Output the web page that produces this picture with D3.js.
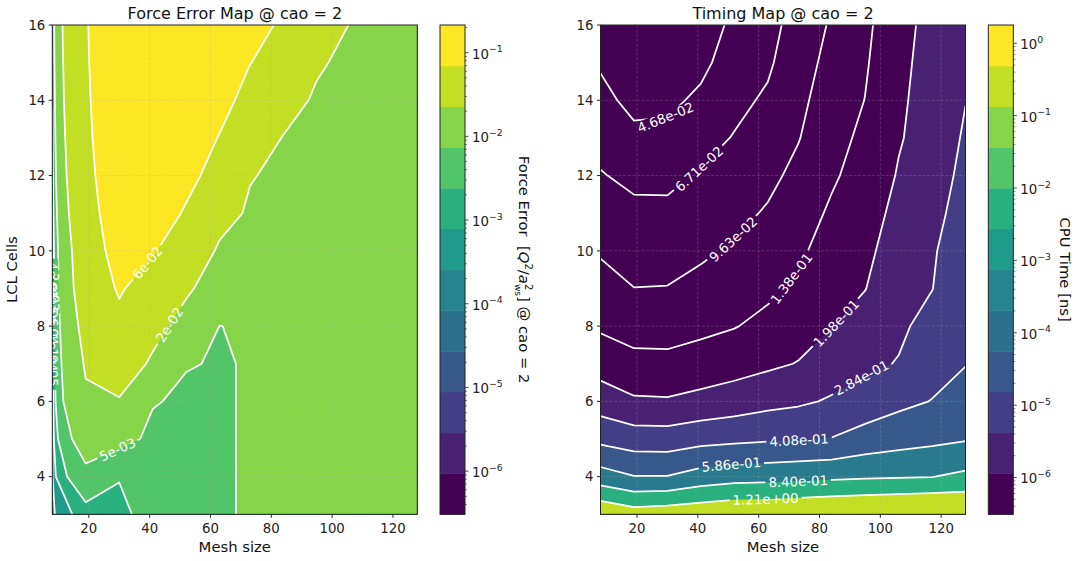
<!DOCTYPE html>
<html>
<head>
<meta charset="utf-8">
<script src="https://cdn.jsdelivr.net/npm/d3@7"></script>
<style>
  body { margin: 0; background: #fff; }
  svg text { font-family: "DejaVu Sans", sans-serif; }
</style>
</head>
<body>
<svg id="chart" width="1079" height="561"></svg>
<script>
// ---- data (rows = LCL cells 3..16, columns = mesh sizes) ----
var meshSizes = [8, 19, 30, 41, 52, 63, 73, 84, 95, 106, 117, 128];
var lclCells = [3, 4, 5, 6, 7, 8, 9, 10, 11, 12, 13, 14, 15, 16];

var forceError = [
  [9e-5, 7.3e-4, 5e-4, 3.4e-3, 3.5e-3, 4.5e-3, 6.26e-3, 7.0e-3, 7.2e-3, 6.8e-3, 6.6e-3, 6.4e-3],
  [1.2e-4, 3.45e-3, 1.8e-3, 4.0e-3, 4.0e-3, 4.7e-3, 6.09e-3, 7.5e-3, 7.5e-3, 7.1e-3, 6.8e-3, 6.6e-3],
  [5e-5, 9.2e-3, 6.7e-3, 4.7e-3, 4.5e-3, 4.9e-3, 5.92e-3, 8.0e-3, 8.0e-3, 7.4e-3, 7.1e-3, 6.9e-3],
  [3e-6, 1.65e-2, 1.7e-2, 5.64e-3, 5.0e-3, 5.1e-3, 5.75e-3, 8.5e-3, 8.5e-3, 7.7e-3, 7.4e-3, 7.1e-3],
  [3.05e-7, 1.99e-2, 3.1e-2, 1.55e-2, 5.58e-3, 5.3e-3, 5.58e-3, 9.0e-3, 9.0e-3, 8.0e-3, 7.7e-3, 7.4e-3],
  [3.05e-7, 2.38e-2, 5.0e-2, 2.5e-2, 1.15e-2, 5.4e-3, 5.9e-3, 9.5e-3, 9.5e-3, 8.4e-3, 8.0e-3, 7.7e-3],
  [5e-7, 2.9e-2, 6.8e-2, 4.0e-2, 2.13e-2, 9.5e-3, 8.5e-3, 1.0e-2, 1.02e-2, 8.8e-3, 8.3e-3, 8.0e-3],
  [5e-5, 3.15e-2, 8.5e-2, 6.7e-2, 3.6e-2, 1.55e-2, 1.2e-2, 1.1e-2, 1.1e-2, 9.2e-3, 8.7e-3, 8.3e-3],
  [4e-4, 3.7e-2, 0.10, 9.0e-2, 5.8e-2, 2.62e-2, 1.6e-2, 1.3e-2, 1.2e-2, 9.7e-3, 9.1e-3, 8.6e-3],
  [9e-4, 4.2e-2, 0.115, 0.11, 7.65e-2, 4.5e-2, 1.95e-2, 1.51e-2, 1.3e-2, 1.02e-2, 9.5e-3, 8.9e-3],
  [1.3e-3, 4.6e-2, 0.13, 0.13, 9.5e-2, 6.05e-2, 3.3e-2, 1.75e-2, 1.38e-2, 1.07e-2, 9.9e-3, 9.2e-3],
  [1.7e-3, 5.0e-2, 0.14, 0.15, 0.11, 8.1e-2, 4.5e-2, 3.0e-2, 1.47e-2, 1.12e-2, 1.03e-2, 9.5e-3],
  [2.1e-3, 5.3e-2, 0.15, 0.165, 0.125, 9.8e-2, 6.4e-2, 4.5e-2, 2.2e-2, 1.2e-2, 1.08e-2, 9.9e-3],
  [2.5e-3, 5.5e-2, 0.16, 0.18, 0.14, 0.112, 8.5e-2, 5.4e-2, 3.5e-2, 1.75e-2, 1.13e-2, 1.02e-2]
];

var cpuTime = [
  [1.662, 1.4285, 1.497, 1.575, 1.662, 1.693, 1.736, 1.793, 1.839, 1.907, 1.956, 1.866],
  [0.6857, 0.5934, 0.5934, 0.6783, 0.7292, 0.7425, 0.7588, 0.7838, 0.8068, 0.8185, 0.8335, 0.9058],
  [0.3724, 0.3390, 0.3365, 0.3631, 0.3764, 0.3903, 0.4003, 0.4135, 0.4692, 0.5099, 0.5402, 0.5703],
  [0.2387, 0.2074, 0.2051, 0.2197, 0.2362, 0.2557, 0.2690, 0.2944, 0.3317, 0.3751, 0.4120, 0.4709],
  [0.1700, 0.1525, 0.1509, 0.1599, 0.1712, 0.1861, 0.2007, 0.2379, 0.2641, 0.2891, 0.3618, 0.4032],
  [0.1315, 0.1197, 0.1197, 0.1273, 0.1359, 0.1514, 0.1712, 0.1964, 0.2261, 0.2670, 0.3188, 0.3833],
  [0.1102, 0.0967, 0.0974, 0.1066, 0.1172, 0.1287, 0.1471, 0.1775, 0.1964, 0.2493, 0.2819, 0.3644],
  [0.0930, 0.0837, 0.0840, 0.0910, 0.1007, 0.1134, 0.1296, 0.1610, 0.1834, 0.2328, 0.2739, 0.3464],
  [0.0799, 0.0727, 0.0725, 0.0793, 0.0881, 0.0996, 0.1167, 0.1455, 0.1712, 0.2173, 0.2557, 0.3293],
  [0.0686, 0.0618, 0.0616, 0.0694, 0.0776, 0.0887, 0.1051, 0.1315, 0.1599, 0.2029, 0.2379, 0.3131],
  [0.0596, 0.0510, 0.0516, 0.0594, 0.0684, 0.0790, 0.0947, 0.1219, 0.1493, 0.1929, 0.2278, 0.2965],
  [0.0518, 0.0423, 0.0432, 0.0503, 0.0614, 0.0706, 0.0890, 0.1134, 0.1388, 0.1861, 0.2311, 0.2819],
  [0.0450, 0.0357, 0.0370, 0.0427, 0.0563, 0.0636, 0.0834, 0.1066, 0.1334, 0.1782, 0.2311, 0.2680],
  [0.0391, 0.0326, 0.0326, 0.0363, 0.0520, 0.0585, 0.0790, 0.0999, 0.1292, 0.1706, 0.2270, 0.2557]
];

// contour levels
var forceLevels = [3.05e-7, 1.04e-6, 3.52e-6, 1.20e-5, 4.07e-5, 1.39e-4, 4.72e-4, 1.60e-3, 5.45e-3, 1.854e-2, 6.30e-2, 0.214];
var timeLevels = [0.0326, 0.0468, 0.0671, 0.0963, 0.138, 0.198, 0.284, 0.408, 0.586, 0.840, 1.21, 1.74];

// colorbar ranges
var forceBarRange = [3.05e-7, 0.214];
var timeBarRange = [3.1e-7, 1.79];

// where the inline contour labels sit: [level index, mesh size, LCL cells]
var forceLabelSpots = [[10, 39.8, 9.65], [9, 47.8, 7.97], [8, 29.1, 4.78],
  [7, 8.6, 8.9], [6, 8.2, 8.0], [5, 8.1, 7.3], [4, 8.05, 9.2], [3, 8.05, 6.9], [2, 8.0, 8.5]];
var timeLabelSpots = [[1, 29.4, 13.52], [2, 42.4, 11.99], [3, 51.3, 10.33], [4, 71.6, 9.21],
  [5, 87.0, 7.97], [6, 95.0, 6.46], [7, 73.3, 4.96], [8, 51.1, 4.25], [9, 73.0, 3.85], [10, 62.3, 3.38]];

// fill colour (viridis position) of the region above each level
var forceBandPos = [1/11, 2/11, 3/11, 4/11, 5/11, 6/11, 7/11, 8/11, 9/11, 10/11, 1, 1];
var timeBandPos = [0, 0, 0, 0, 0, 1/11, 2/11, 3/11, 0.41, 7/11, 10/11, 10/11];

var svg = d3.select("#chart");
var yTop = 25, yBot = 514.3;
var xTicks = [20, 40, 60, 80, 100, 120];
var yTicks = [4, 6, 8, 10, 12, 14, 16];

function fmtExp(v, d) {
  return v.toExponential(d).replace(/e([+-])(\d)$/, "e$10$2");
}

function drawPanel(p) {
  var xs = d3.scaleLinear().domain([8, 128]).range([p.x0, p.x1]);
  var ys = d3.scaleLinear().domain([3, 16]).range([yBot, yTop]);
  var gx = d3.scaleLinear().domain(meshSizes.map(function(d, i) { return i + 0.5; })).range(meshSizes);
  var gy = d3.scaleLinear().domain(lclCells.map(function(d, i) { return i + 0.5; })).range(lclCells);
  var tf = p.logInterp ? Math.log10 : function(v) { return v; };

  var flat = [];
  p.data.forEach(function(row) { row.forEach(function(v) { flat.push(tf(v)); }); });
  var contours = d3.contours()
    .size([meshSizes.length, lclCells.length])
    .thresholds(p.levels.map(tf))(flat);

  var toPx = function(q) { return [xs(gx(q[0])), ys(gy(q[1]))]; };
  var path = d3.geoPath(d3.geoTransform({
    point: function(x, y) { var q = toPx([x, y]); this.stream.point(q[0], q[1]); }
  }));

  var clipId = p.id + "-clip", maskId = p.id + "-mask";
  var defs = svg.append("defs");
  defs.append("clipPath").attr("id", clipId).append("rect")
    .attr("x", p.x0).attr("y", yTop).attr("width", p.x1 - p.x0).attr("height", yBot - yTop);
  var mask = defs.append("mask").attr("id", maskId).attr("maskUnits", "userSpaceOnUse")
    .attr("x", 0).attr("y", 0).attr("width", 1079).attr("height", 561);
  mask.append("rect").attr("width", 1079).attr("height", 561).attr("fill", "#fff");

  var plot = svg.append("g").attr("clip-path", "url(#" + clipId + ")");
  plot.append("rect")
    .attr("x", p.x0).attr("y", yTop).attr("width", p.x1 - p.x0).attr("height", yBot - yTop)
    .attr("fill", d3.interpolateViridis(0));
  plot.selectAll("path.band").data(contours).enter().append("path")
    .attr("class", "band")
    .attr("d", path)
    .attr("fill-rule", "evenodd")
    .attr("fill", function(d, i) { return d3.interpolateViridis(p.bandPos[i]); });

  // grid
  var grid = plot.append("g").attr("stroke", "#b0b0b0").attr("stroke-opacity", 0.35)
    .attr("stroke-width", 0.8).attr("stroke-dasharray", "2.8,1.8");
  xTicks.forEach(function(t) {
    grid.append("line").attr("x1", xs(t)).attr("x2", xs(t)).attr("y1", yTop).attr("y2", yBot);
  });
  yTicks.forEach(function(t) {
    grid.append("line").attr("x1", p.x0).attr("x2", p.x1).attr("y1", ys(t)).attr("y2", ys(t));
  });

  // contour lines
  var lines = plot.append("g").attr("mask", "url(#" + maskId + ")");
  d3.range(1, 11).forEach(function(k) {
    lines.append("path").attr("d", path(contours[k]))
      .attr("fill", "none").attr("stroke", "#fff").attr("stroke-width", 1.75)
      .attr("stroke-linejoin", "round");
  });

  // inline labels
  var inside = function(q) {
    return q[0] >= p.x0 - 0.01 && q[0] <= p.x1 + 0.01 && q[1] >= yTop - 0.01 && q[1] <= yBot + 0.01;
  };
  var labelG = svg.append("g");
  p.spots.forEach(function(s) {
    var k = s[0], ax = xs(s[1]), ay = ys(s[2]);
    var best = { d: Infinity };
    contours[k].coordinates.forEach(function(poly) {
      poly.forEach(function(ring) {
        var pts = ring.map(toPx);
        for (var i = 0; i < pts.length - 1; i++) {
          var a = pts[i], b = pts[i + 1];
          if (!inside(a) || !inside(b)) continue;
          var dx = b[0] - a[0], dy = b[1] - a[1], L2 = dx * dx + dy * dy;
          var t = L2 ? Math.max(0, Math.min(1, ((ax - a[0]) * dx + (ay - a[1]) * dy) / L2)) : 0;
          var px = a[0] + t * dx, py = a[1] + t * dy;
          var dd = Math.hypot(px - ax, py - ay);
          if (dd < best.d) best = { d: dd, pts: pts, i: i, t: t, px: px, py: py };
        }
      });
    });
    if (!best.pts) return;
    var pts = best.pts, cum = [0];
    for (var i = 1; i < pts.length; i++) cum.push(cum[i - 1] + Math.hypot(pts[i][0] - pts[i - 1][0], pts[i][1] - pts[i - 1][1]));
    var sPos = cum[best.i] + best.t * (cum[best.i + 1] - cum[best.i]);
    var at = function(sv) {
      sv = Math.max(0, Math.min(cum[cum.length - 1], sv));
      var j = d3.bisectRight(cum, sv) - 1;
      j = Math.max(0, Math.min(pts.length - 2, j));
      var seg = cum[j + 1] - cum[j], f = seg ? (sv - cum[j]) / seg : 0;
      return [pts[j][0] + f * (pts[j + 1][0] - pts[j][0]), pts[j][1] + f * (pts[j + 1][1] - pts[j][1])];
    };
    var A = at(sPos - 14), B = at(sPos + 14);
    var ang = Math.atan2(B[1] - A[1], B[0] - A[0]) * 180 / Math.PI;
    if (ang > 90) ang -= 180;
    if (ang <= -90) ang += 180;
    var tr = "translate(" + best.px + "," + best.py + ") rotate(" + ang + ")";
    var txt = labelG.append("text").attr("transform", tr)
      .attr("text-anchor", "middle").attr("dy", "0.36em")
      .attr("fill", "#fff").attr("font-size", 13.3)
      .text(p.fmt(p.levels[k]));
    var w = txt.node().getComputedTextLength();
    mask.append("rect").attr("transform", tr)
      .attr("x", -w / 2 - 3).attr("y", -6).attr("width", w + 6).attr("height", 12)
      .attr("fill", "#000");
  });

  // frame and ticks
  svg.append("rect").attr("x", p.x0).attr("y", yTop).attr("width", p.x1 - p.x0).attr("height", yBot - yTop)
    .attr("fill", "none").attr("stroke", "#222").attr("stroke-width", 1);
  var ax = svg.append("g").attr("font-size", 13.3).attr("fill", "#222");
  xTicks.forEach(function(t) {
    ax.append("line").attr("x1", xs(t)).attr("x2", xs(t)).attr("y1", yBot).attr("y2", yBot + 3.5)
      .attr("stroke", "#222");
    ax.append("text").attr("x", xs(t)).attr("y", yBot + 18.3).attr("text-anchor", "middle").text(t);
  });
  yTicks.forEach(function(t) {
    ax.append("line").attr("x1", p.x0 - 3.5).attr("x2", p.x0).attr("y1", ys(t)).attr("y2", ys(t))
      .attr("stroke", "#222");
    ax.append("text").attr("x", p.x0 - 7).attr("y", ys(t)).attr("dy", "0.36em")
      .attr("text-anchor", "end").text(t);
  });
  svg.append("text").attr("x", (p.x0 + p.x1) / 2).attr("y", 551.5).attr("text-anchor", "middle")
    .attr("font-size", 14.8).attr("fill", "#111").text("Mesh size");
  svg.append("text").attr("x", (p.x0 + p.x1) / 2).attr("y", 19.2).attr("text-anchor", "middle")
    .attr("font-size", 16).attr("fill", "#111").text(p.title);
  if (p.ylabel) {
    svg.append("text").attr("transform", "translate(17.2," + (yTop + yBot) / 2 + ") rotate(-90)")
      .attr("text-anchor", "middle").attr("font-size", 14.8).attr("fill", "#111").text(p.ylabel);
  }

  drawColorbar(p.cbX0, p.cbX1, p.barRange, p.cbLabel, p.cbLabelX);
}

function drawColorbar(cx0, cx1, range, labelFn, labelX) {
  var lo = range[0], hi = range[1];
  var s = d3.scaleLog().domain([lo, hi]).range([yBot, yTop]);
  var span = Math.log10(hi / lo);
  var g = svg.append("g");
  d3.range(12).forEach(function(i) {
    var v0 = lo * Math.pow(10, span * i / 12), v1 = lo * Math.pow(10, span * (i + 1) / 12);
    g.append("rect").attr("x", cx0).attr("width", cx1 - cx0)
      .attr("y", s(v1)).attr("height", s(v0) - s(v1) + 0.4)
      .attr("fill", d3.interpolateViridis(i / 11));
  });
  g.append("rect").attr("x", cx0).attr("y", yTop).attr("width", cx1 - cx0).attr("height", yBot - yTop)
    .attr("fill", "none").attr("stroke", "#222").attr("stroke-width", 1);
  var eLo = Math.floor(Math.log10(lo)), eHi = Math.ceil(Math.log10(hi));
  for (var e = eLo; e <= eHi; e++) {
    for (var j = 2; j <= 9; j++) {
      var v = j * Math.pow(10, e);
      if (v < lo || v > hi) continue;
      g.append("line").attr("x1", cx1).attr("x2", cx1 + 2).attr("y1", s(v)).attr("y2", s(v))
        .attr("stroke", "#222").attr("stroke-width", 0.6);
    }
    var m = Math.pow(10, e);
    if (m < lo || m > hi) continue;
    g.append("line").attr("x1", cx1).attr("x2", cx1 + 3.5).attr("y1", s(m)).attr("y2", s(m))
      .attr("stroke", "#222").attr("stroke-width", 0.8);
    var t = g.append("text").attr("x", cx1 + 7).attr("y", s(m) + 6).attr("font-size", 13.3).attr("fill", "#222");
    t.append("tspan").text("10");
    t.append("tspan").attr("dy", -6.5).attr("font-size", 9.3).text(e < 0 ? "\u2212" + (-e) : String(e));
  }
  var lab = svg.append("text").attr("transform", "translate(" + labelX + "," + (yTop + yBot) / 2 + ") rotate(90)")
    .attr("text-anchor", "middle").attr("font-size", 14.8).attr("fill", "#111");
  labelFn(lab);
}

drawPanel({
  id: "force", x0: 52.3, x1: 417.3,
  data: forceError, levels: forceLevels, logInterp: false,
  bandPos: forceBandPos, spots: forceLabelSpots,
  fmt: function(v) { return fmtExp(v, 0); },
  title: "Force Error Map @ cao = 2", ylabel: "LCL Cells",
  cbX0: 440, cbX1: 465, barRange: forceBarRange, cbLabelX: 518.5,
  cbLabel: function(t) {
    t.append("tspan").text("Force Error\u00a0\u00a0[");
    t.append("tspan").attr("font-style", "italic").text("Q");
    t.append("tspan").attr("font-size", 10).attr("dy", -6).text("2");
    t.append("tspan").attr("dy", 6).text("/");
    t.append("tspan").attr("font-style", "italic").text("a");
    t.append("tspan").attr("font-size", 10).attr("dy", -6).text("2");
    t.append("tspan").attr("font-size", 9).attr("dx", -6.4).attr("dy", 9.5).text("ws");
    t.append("tspan").attr("dy", -3.5).text("] @ cao = 2");
  }
});

drawPanel({
  id: "time", x0: 600.5, x1: 965.5,
  data: cpuTime, levels: timeLevels, logInterp: true,
  bandPos: timeBandPos, spots: timeLabelSpots,
  fmt: function(v) { return fmtExp(v, 2); },
  title: "Timing Map @ cao = 2", ylabel: null,
  cbX0: 988.3, cbX1: 1013.3, barRange: timeBarRange, cbLabelX: 1060,
  cbLabel: function(t) { t.text("CPU Time [ns]"); }
});
</script>
</body>
</html>
